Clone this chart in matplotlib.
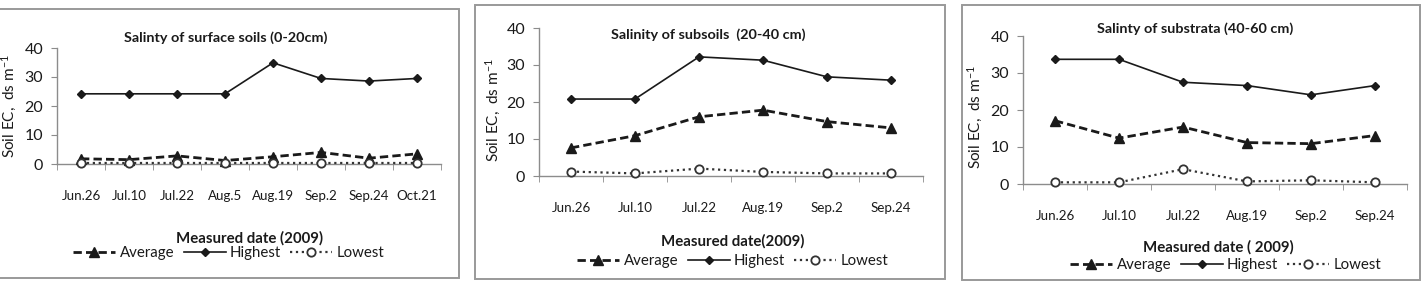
import numpy as np
import matplotlib
matplotlib.use('Agg')
import matplotlib.pyplot as plt
from matplotlib.patches import Rectangle

matplotlib.rcParams['font.family'] = ['Lato', 'DejaVu Sans']
matplotlib.rcParams['mathtext.fontset'] = 'custom'
matplotlib.rcParams['mathtext.rm'] = 'Lato'
matplotlib.rcParams['mathtext.it'] = 'Lato:italic'
matplotlib.rcParams['mathtext.default'] = 'regular'

W, H = 1422, 282

# panel 1: surface soils
dates_1 = ['Jun.26', 'Jul.10', 'Jul.22', 'Aug.5', 'Aug.19', 'Sep.2', 'Sep.24', 'Oct.21']
average_1 = [1.8, 1.5, 2.8, 1.2, 2.5, 4.0, 2.0, 3.5]
highest_1 = [24.2, 24.2, 24.2, 24.2, 34.9, 29.5, 28.6, 29.5]
lowest_1 = [0.2, 0.2, 0.2, 0.2, 0.2, 0.2, 0.2, 0.2]

# panel 2: subsoils
dates_2 = ['Jun.26', 'Jul.10', 'Jul.22', 'Aug.19', 'Sep.2', 'Sep.24']
average_2 = [7.6, 10.9, 16.0, 17.8, 14.7, 13.0]
highest_2 = [20.8, 20.8, 32.2, 31.3, 26.8, 25.9]
lowest_2 = [1.2, 0.7, 2.0, 1.1, 0.7, 0.7]

# panel 3: substrata
dates_3 = ['Jun.26', 'Jul.10', 'Jul.22', 'Aug.19', 'Sep.2', 'Sep.24']
average_3 = [17.1, 12.4, 15.4, 11.2, 10.9, 13.1]
highest_3 = [33.7, 33.7, 27.5, 26.6, 24.1, 26.6]
lowest_3 = [0.45, 0.45, 4.0, 0.7, 1.0, 0.45]

titles = ['Salinty of surface soils (0-20cm)',
          'Salinity of subsoils  (20-40 cm)',
          'Salinty of substrata (40-60 cm)']
xlabels = ['Measured date (2009)', 'Measured date(2009)', 'Measured date ( 2009)']

# layout in pixels: axes (left, right, top, bottom), box (left, right, top, bottom)
axes_px = [(57, 441, 48, 164), (539, 923, 28, 176), (1023, 1407, 36, 184)]
box_px = [(-2, 459, 9, 278), (475, 945, 5, 279), (962, 1420, 5, 280)]
ylab_x = [9, 493, 975]
ylab_y = [106, 110, 117]
title_x = [226, 708, 1195]
title_y = [38, 35, 29]
xlab_x = [249, 733, 1218]
xlab_y = [238, 241, 247]
leg_x = [229, 733, 1226]
leg_y = [253, 261, 265]

data = [(dates_1, average_1, highest_1, lowest_1),
        (dates_2, average_2, highest_2, lowest_2),
        (dates_3, average_3, highest_3, lowest_3)]

ink = '#1a1a1a'
grey = '#8c8c8c'

fig = plt.figure(figsize=(W / 100, H / 100), dpi=100)
fig.patch.set_facecolor('white')

for k in range(3):
    dates, avg, hi, lo = data[k]
    l, r, t, b = axes_px[k]
    ax = fig.add_axes([l / W, 1 - b / H, (r - l) / W, (b - t) / H])
    bl, br, bt, bb = box_px[k]
    fig.patches.append(Rectangle((bl / W, 1 - bb / H), (br - bl) / W, (bb - bt) / H,
                                 transform=fig.transFigure, fill=False,
                                 edgecolor='#999999', linewidth=1.4, zorder=0))
    x = np.arange(len(dates))
    ax.plot(x, avg, '--', color=ink, linewidth=2.0, dashes=(3, 1.5),
            marker='^', markersize=6.5, label='Average', clip_on=False, zorder=3)
    ax.plot(x, hi, '-', color=ink, linewidth=1.2,
            marker='D', markersize=3.8, label='Highest', clip_on=False, zorder=3)
    ax.plot(x, lo, ':', color='#333333', linewidth=1.6,
            marker='o', markersize=6, markerfacecolor='white', markeredgewidth=1.3,
            label='Lowest', clip_on=False, zorder=4)
    ax.set_xlim(-0.5, len(dates) - 0.5)
    ax.set_ylim(0, 40)
    ax.set_yticks([0, 10, 20, 30, 40])
    ax.set_xticks(x)
    ax.set_xticklabels(dates, fontsize=9.6, color=ink)
    ax.set_xticks(np.arange(len(dates) + 1) - 0.5, minor=True)
    ax.tick_params(axis='x', which='major', length=0, pad=19)
    ax.tick_params(axis='x', which='minor', length=4, direction='out', color=grey)
    ax.tick_params(axis='y', length=4, direction='out', color=grey,
                   labelsize=11.5, labelcolor=ink, pad=6)
    for s in ['top', 'right']:
        ax.spines[s].set_visible(False)
    for s in ['left', 'bottom']:
        ax.spines[s].set_color(grey)
        ax.spines[s].set_linewidth(1.0)
    ax.patch.set_alpha(0)
    fig.text(ylab_x[k] / W, 1 - ylab_y[k] / H, 'Soil EC,  ds m$^{-1}$',
             rotation=90, ha='center', va='center', fontsize=11, color=ink)
    fig.text(title_x[k] / W, 1 - title_y[k] / H, titles[k], ha='center', va='center',
             fontsize=10.4, fontweight='bold', color=ink)
    fig.text(xlab_x[k] / W, 1 - xlab_y[k] / H, xlabels[k], ha='center', va='center',
             fontsize=10.8, fontweight='bold', color=ink)
    fig.legend(*ax.get_legend_handles_labels(), loc='center',
               bbox_to_anchor=(leg_x[k] / W, 1 - leg_y[k] / H), ncol=3, frameon=False,
               fontsize=10.8, handlelength=2.8, handletextpad=0.3, columnspacing=0.6,
               borderpad=0, labelcolor=ink)

fig.savefig('out.png', dpi=100, facecolor='white')
